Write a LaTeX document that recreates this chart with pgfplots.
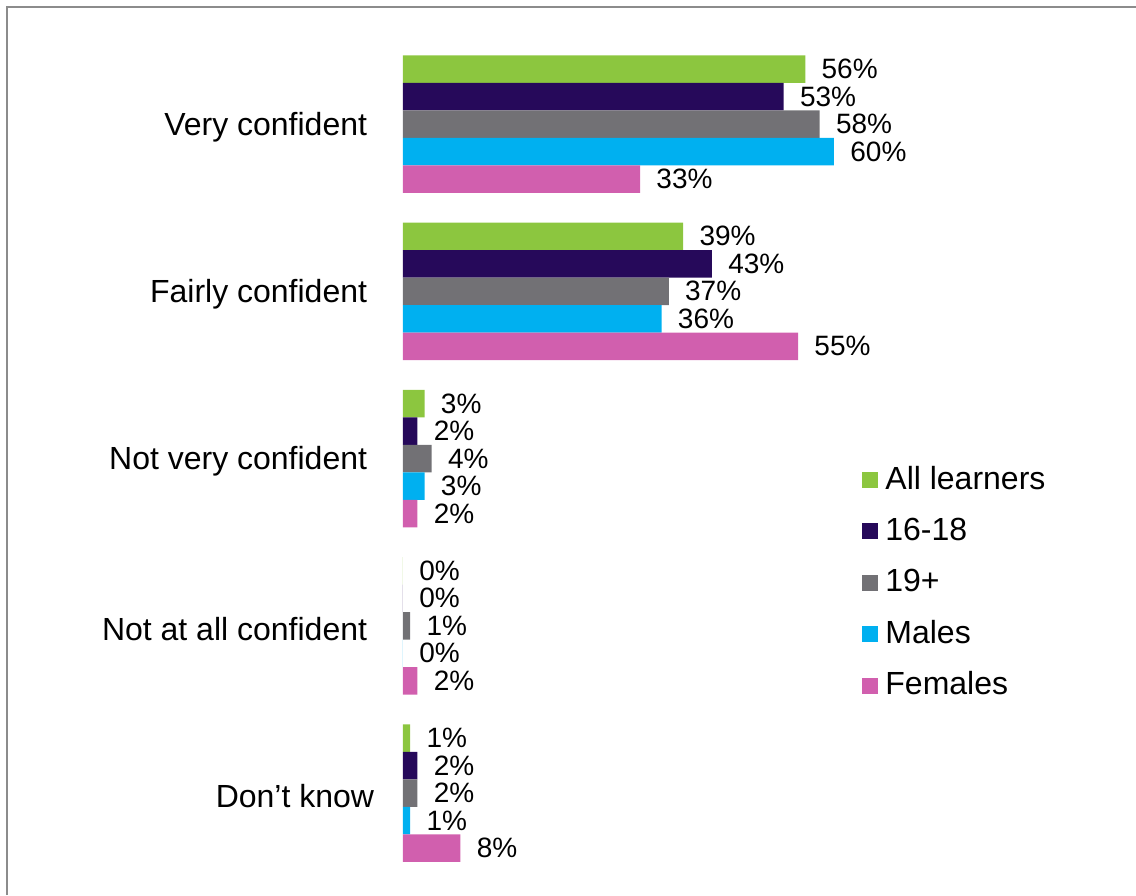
\documentclass[border=0pt]{standalone}
\usepackage{fontspec}
\setmainfont{Liberation Sans}
\usepackage{pgfplots}
\pgfplotsset{compat=1.18}

\definecolor{cAll}{HTML}{8CC63F}
\definecolor{cYoung}{HTML}{26095A}
\definecolor{cOld}{HTML}{727175}
\definecolor{cMale}{HTML}{00B0F0}
\definecolor{cFemale}{HTML}{D15FAE}

\begin{document}
\begin{tikzpicture}
% picture area and the frame (top and left edges only)
\useasboundingbox (-201.5pt,-0.825pt) rectangle (366.5pt,446.675pt);
\draw[line width=1pt, color=gray!90] (-198pt,-0.825pt) -- (-198pt,443.175pt) -- (366.5pt,443.175pt);
\begin{axis}[
  xbar,
  scale only axis,
  width=215.5pt,
  height=434.85pt,
  xmin=0, xmax=60,
  ymin=-0.6, ymax=4.6,
  y dir=reverse,
  bar width=0.1644,
  axis line style={draw=none},
  tick style={draw=none},
  xtick=\empty,
  ytick={0,1,2,3,4},
  yticklabels={Very confident,Fairly confident,Not very confident,Not at all confident,Don’t know\hspace{-3.5pt}\null},
  yticklabel style={font=\fontsize{16}{19}\selectfont, anchor=east, inner sep=0pt, xshift=-13.5pt, yshift=-1.5pt},
  clip=false,
  nodes near coords={\pgfmathprintnumber[assume math mode=true]{\pgfplotspointmeta}\%},
  nodes near coords style={font=\fontsize{14}{17}\selectfont, text=black, anchor=west, inner sep=0pt, xshift=8pt},
  legend image code/.code={\fill[#1, draw=none] (0pt,-4pt) rectangle (8pt,4pt);},
  legend style={draw=none, fill=none, at={(rel axis cs:1.065,0.493)}, anchor=north west,
    inner sep=0pt, row sep=10.7pt, column sep=3.5pt,
    font=\fontsize{16}{19}\selectfont,
    nodes={inner sep=0pt, text height=12pt, text depth=3pt}},
  legend cell align=left,
]
\addplot[bar shift=-0.3288, fill=cAll, draw=none] coordinates {
  (56,0) (39,1) (3,2) (0,3) (1,4)
};
\addplot[bar shift=-0.1644, fill=cYoung, draw=none] coordinates {
  (53,0) (43,1) (2,2) (0,3) (2,4)
};
\addplot[bar shift=0, fill=cOld, draw=none] coordinates {
  (58,0) (37,1) (4,2) (1,3) (2,4)
};
\addplot[bar shift=0.1644, fill=cMale, draw=none] coordinates {
  (60,0) (36,1) (3,2) (0,3) (1,4)
};
\addplot[bar shift=0.3288, fill=cFemale, draw=none] coordinates {
  (33,0) (55,1) (2,2) (2,3) (8,4)
};
\legend{All learners,16-18,19+,Males,Females}
\end{axis}
\end{tikzpicture}
\end{document}
